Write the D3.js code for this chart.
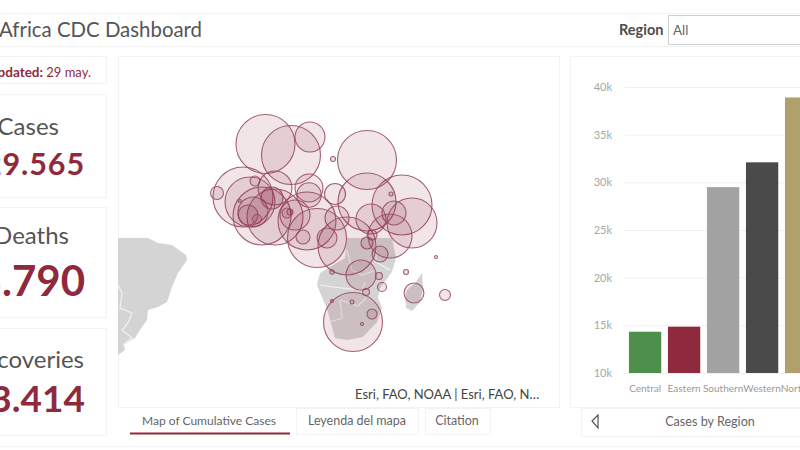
<!DOCTYPE html>
<html><head><meta charset="utf-8">
<script src="https://cdn.jsdelivr.net/npm/d3@7"></script>
<style>html,body{margin:0;padding:0;background:#fff;overflow:hidden}svg{display:block;font-family:Lato,"Open Sans",sans-serif}</style>
</head><body><svg id="c" width="800" height="450"></svg>
<script>
const regions=["Central","Eastern","Southern","Western","Northern"];
const regionCases=[14330,14860,29500,32100,38900];
const regionColors=["#4e8f4c","#8f2a3e","#a3a3a3","#4a4a4a","#b0a06c"];
const yTicks=[10000,15000,20000,25000,30000,35000,40000];
const bubbleLon=[-7,3.2,10.8,20,33.6,-26.4,-16,-8.4,-3.2,-12,-14,-10.4,-17.2,-11.2,-3.2,10.4,20.8,33.6,47.6,51.6,44.4,35.2,43.2,21.6,31.2,28,35.6,27.6,31.6,19.6,33.2,39.6,38.4,19.6,38.8,33.6,35.6,49.2,61.2,52.4,64.8,13.6,25.6,42.8,4.8,9.6,8,17.6,1.6,2.8,10.4,-13.2,-4.4];
const bubbleLat=[38.8,34.4,41.6,32.8,32.4,19.2,17.6,10,9.6,11.6,10.4,8.8,16,24,21.2,21.2,18.8,15.6,14.4,7.2,11.2,8.8,18.8,9.2,-13.6,-32.4,-29.2,-24.4,-33.2,-24,-20.4,-18.4,-14,-12.4,-5.2,-0.8,2.4,-12.4,-6.4,-20.8,-21.6,1.2,-2,2,10.4,8,1.6,1.2,11.2,11.6,18.4,15.6,17.2];
const bubbleCases=[29000,29000,7500,210,29000,1400,30000,28000,26100,7500,3300,670,75,830,9600,6500,3700,28000,30000,20800,4800,7500,130,4800,7500,29000,830,130,75,75,400,670,400,160,2130,1200,830,210,75,3300,1000,29000,28000,16100,7500,28000,1630,3300,830,300,5000,20800,4000];
const africaOutline=[[25.6,1.2],[24.8,-6.8],[14.8,-12.8],[13.6,-17.6],[15.6,-22.4],[18,-28.4],[20.8,-38.8],[25.6,-39.6],[32,-38.4],[37.6,-32.4],[39.6,-26.8],[38,-22.8],[38.8,-18.8],[41.2,-15.6],[43.6,-12.4],[45.2,-6.8],[43.6,1.2]];
const southAmerica=[[-66,1.2],[-54,1.2],[-50,-0.8],[-44.4,-1.6],[-38.8,-5.6],[-38.4,-7.6],[-42,-12.8],[-44.4,-18.4],[-46.4,-24.4],[-50,-26.4],[-54,-27.6],[-54.4,-31.6],[-57.2,-35.6],[-59.2,-38.8],[-62,-40.4],[-63.6,-41.6],[-63.2,-43.6],[-66,-45.6]];
const madagascar=[[55.6,-12.8],[56,-18.8],[54.8,-24.4],[51.6,-28],[49.2,-26.8],[48.8,-22.4],[49.6,-19.6],[52.8,-16.8]];
const borders=[
 [[14.8,-17.6],[20,-18.4],[31.6,-19.6],[32.8,-16.4]],
 [[25.6,-3.6],[27.6,-11.6],[31.6,-13.6],[37.2,-11.6]],
 [[22.8,-23.6],[23.6,-30.8],[18.8,-32.4]],
 [[22.8,-23.6],[30,-26],[33.2,-22.8]],
 [[37.2,0.4],[37.2,-8.4],[42.8,-11.6]],
 [[-66,-17.6],[-64.4,-20.8],[-65.2,-26.8],[-60.4,-28.8],[-62,-32.8],[-64.4,-35.6],[-60.4,-38.8],[-64,-41.6]]
];
const RED="#8f2a3e",LINE="#f3f3f3",TXT="#555";
const svg=d3.select("#c");
function box(x,y,w,h,st){return svg.append("rect").attr("x",x+.5).attr("y",y+.5).attr("width",w).attr("height",h).attr("fill","#fff").attr("stroke",st||LINE);}
function txt(x,y,s,size,fill,anchor,weight){return svg.append("text").attr("x",x).attr("y",y).attr("font-size",size).attr("fill",fill).attr("text-anchor",anchor||"start").attr("font-weight",weight||400).text(s);}

// header
box(-5,13,810,33);
txt(-1,37,"Africa CDC Dashboard",20.4,TXT);
txt(619,35,"Region",14.5,"#4d4d4d","start",700);
box(668,15,140,29,"#cfcfcf");
txt(673,35,"All",13.5,"#666");
svg.append("line").attr("x1",0).attr("x2",800).attr("y1",446.5).attr("y2",446.5).attr("stroke",LINE);

// left cards
box(-5,56,111,27);box(-5,94,111,103);box(-5,207,111,110);box(-5,328,111,107);
const u=txt(91,77,"",13,RED,"end");
u.append("tspan").attr("font-weight",700).attr("font-size",13.5).text("Last Updated: ");u.append("tspan").text("29 may.");
txt(59,135,"Total Cases",24,TXT,"end");
txt(85,174.5,"129.565",30.5,RED,"end",700).attr("letter-spacing",.9);
txt(69,244,"Total Deaths",24,TXT,"end");
txt(85,296,"3.790",42,RED,"end",700);
txt(84,368,"Total Recoveries",24,TXT,"end");
txt(85,412,"53.414",37,RED,"end",700);

// map panel
box(118,56,441,351);
const lonS=d3.scaleLinear().domain([0,100]).range([283,533]);
const latS=d3.scaleLinear().domain([0,100]).range([241,-9]);
const rS=d3.scaleSqrt().domain([0,30000]).range([0,30]);
const line=d3.line().x(d=>lonS(d[0])).y(d=>latS(d[1]));
[africaOutline,southAmerica,madagascar].forEach(p=>svg.append("path").attr("d",line(p)+"Z").attr("fill","#d4d4d4"));
borders.forEach(p=>svg.append("path").attr("d",line(p)).attr("fill","none").attr("stroke","#f2f2f2").attr("stroke-width",1.2));
svg.append("g").selectAll("circle").data(bubbleCases).join("circle")
 .attr("cx",(d,i)=>lonS(bubbleLon[i])).attr("cy",(d,i)=>latS(bubbleLat[i])).attr("r",d=>rS(d))
 .attr("fill",RED).attr("fill-opacity",.12).attr("stroke","#94475f").attr("stroke-opacity",.85).attr("stroke-width",1.1);
txt(355,399,"Esri, FAO, NOAA | Esri, FAO, N…",13,"#444");

// map tabs
svg.append("rect").attr("x",130).attr("y",432.5).attr("width",160).attr("height",2).attr("fill",RED);
box(296,408,122,26);box(425,408,65,26);
txt(209,425,"Map of Cumulative Cases",12,"#666","middle");
txt(357,425,"Leyenda del mapa",12.5,"#666","middle");
txt(457,425,"Citation",12.5,"#666","middle");

// chart panel
box(570,56,240,351);
const y=d3.scaleLinear().domain([10000,40000]).range([373,87]);
const x=d3.scaleBand().domain(regions).range([625.6,820.6]).paddingInner(.172).paddingOuter(.086);
const fmt=d=>(d/1000)+"k";
const gy=svg.append("g").attr("transform","translate(625,0)").call(d3.axisLeft(y).tickValues(yTicks).tickSize(-180).tickPadding(13).tickFormat(fmt));
gy.select(".domain").remove();
gy.selectAll(".tick line").attr("stroke","#f0f0f0");
gy.selectAll("text").attr("font-size",11).attr("fill","#a6a6a6").attr("font-family","Lato,sans-serif");
svg.append("g").selectAll("rect").data(regionCases).join("rect")
 .attr("x",(d,i)=>x(regions[i])).attr("width",x.bandwidth()).attr("y",d=>y(d)).attr("height",d=>y(10000)-y(d))
 .attr("fill",(d,i)=>regionColors[i]);
const gx=svg.append("g").attr("transform","translate(0,373)").call(d3.axisBottom(x).tickSize(0).tickPadding(12));
gx.select(".domain").remove();
gx.selectAll("text").attr("font-size",10).attr("fill","#9a9a9a").attr("font-family","Lato,sans-serif");

// chart tab
box(581,408,230,28);
svg.append("path").attr("d",d3.line()([[598,415],[592,421],[598,428]])+"Z").attr("fill","none").attr("stroke","#555").attr("stroke-width",1.2);
txt(710,426,"Cases by Region",12.6,"#666","middle");
</script></body></html>
